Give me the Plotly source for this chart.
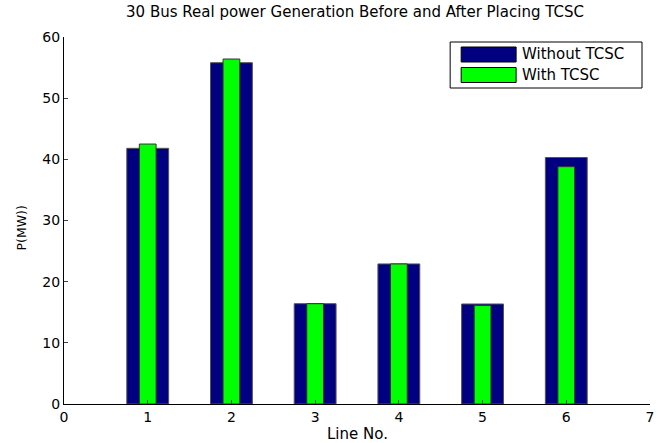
import plotly.graph_objects as go

lines = [1, 2, 3, 4, 5, 6]
without_tcsc = [41.8, 55.8, 16.4, 22.9, 16.35, 40.3]
with_tcsc = [42.5, 56.4, 16.4, 22.9, 16.1, 38.8]
series_names = ["Without TCSC", "With TCSC"]
x_ticks = [0, 1, 2, 3, 4, 5, 6, 7]
y_ticks = [0, 10, 20, 30, 40, 50, 60]

navy = "#000080"
green = "#00FF00"
font = "DejaVu Sans, Arial, sans-serif"

fig = go.Figure()
fig.add_trace(go.Bar(x=lines, y=without_tcsc, width=0.5, name=series_names[0],
                     marker=dict(color=navy, line=dict(color="#555555", width=1))))
fig.add_trace(go.Bar(x=lines, y=with_tcsc, width=0.2, name=series_names[1],
                     marker=dict(color=green, line=dict(color="#333333", width=1))))

px0, px1 = 63.5, 650
py0, py1 = 37, 404

fig.update_layout(
    width=660, height=443,
    margin=dict(l=px0, r=660 - px1, t=py0, b=443 - py1, autoexpand=False),
    barmode="overlay",
    showlegend=False,
    plot_bgcolor="white", paper_bgcolor="white",
    font=dict(family=font, size=14, color="black"),
    title=dict(text="30 Bus Real power Generation Before and After Placing TCSC",
               x=355 / 660, xanchor="center", y=1 - 12 / 443, yanchor="middle",
               font=dict(size=15, family=font)),
)
fig.update_xaxes(range=[0, 7], tickvals=x_ticks, ticks="inside", ticklen=4,
                 showline=True, linecolor="black", linewidth=1, showgrid=False,
                 zeroline=False, tickfont=dict(size=14), automargin=False,
                 ticklabeloverflow="allow")
fig.update_yaxes(range=[0, 60], tickvals=y_ticks, ticks="inside", ticklen=4,
                 showline=True, linecolor="black", linewidth=1, showgrid=False,
                 zeroline=False, tickfont=dict(size=14), automargin=False)

def xp(p):
    return (p - px0) / (px1 - px0)
def yp(p):
    return (py1 - p) / (py1 - py0)

# axis titles
fig.add_annotation(x=xp(357), y=yp(434), xref="paper", yref="paper", text="Line No.",
                   showarrow=False, xanchor="center", yanchor="middle",
                   font=dict(size=15, family=font))
fig.add_annotation(x=xp(20), y=yp(228), xref="paper", yref="paper", text="P(MW))",
                   showarrow=False, xanchor="center", yanchor="middle", textangle=-90,
                   font=dict(size=12.5, family=font))

# custom legend box (MATLAB style)
fig.add_shape(type="rect", xref="paper", yref="paper",
              x0=xp(450), x1=xp(642), y0=yp(88), y1=yp(42),
              line=dict(color="black", width=1), fillcolor="white")
for i, (name, col) in enumerate(zip(series_names, [navy, green])):
    top = 47 + i * 20.5
    fig.add_shape(type="rect", xref="paper", yref="paper",
                  x0=xp(461), x1=xp(516), y0=yp(top + 15), y1=yp(top),
                  line=dict(color="black", width=1), fillcolor=col)
    fig.add_annotation(x=xp(520), y=yp(top + 7.5), xref="paper", yref="paper",
                       text=name, showarrow=False, xanchor="left", yanchor="middle",
                       font=dict(size=15, family=font))

fig.write_html("out.html", config={"displayModeBar": False},
               post_script="document.body.style.margin='0';document.body.style.padding='0';")
